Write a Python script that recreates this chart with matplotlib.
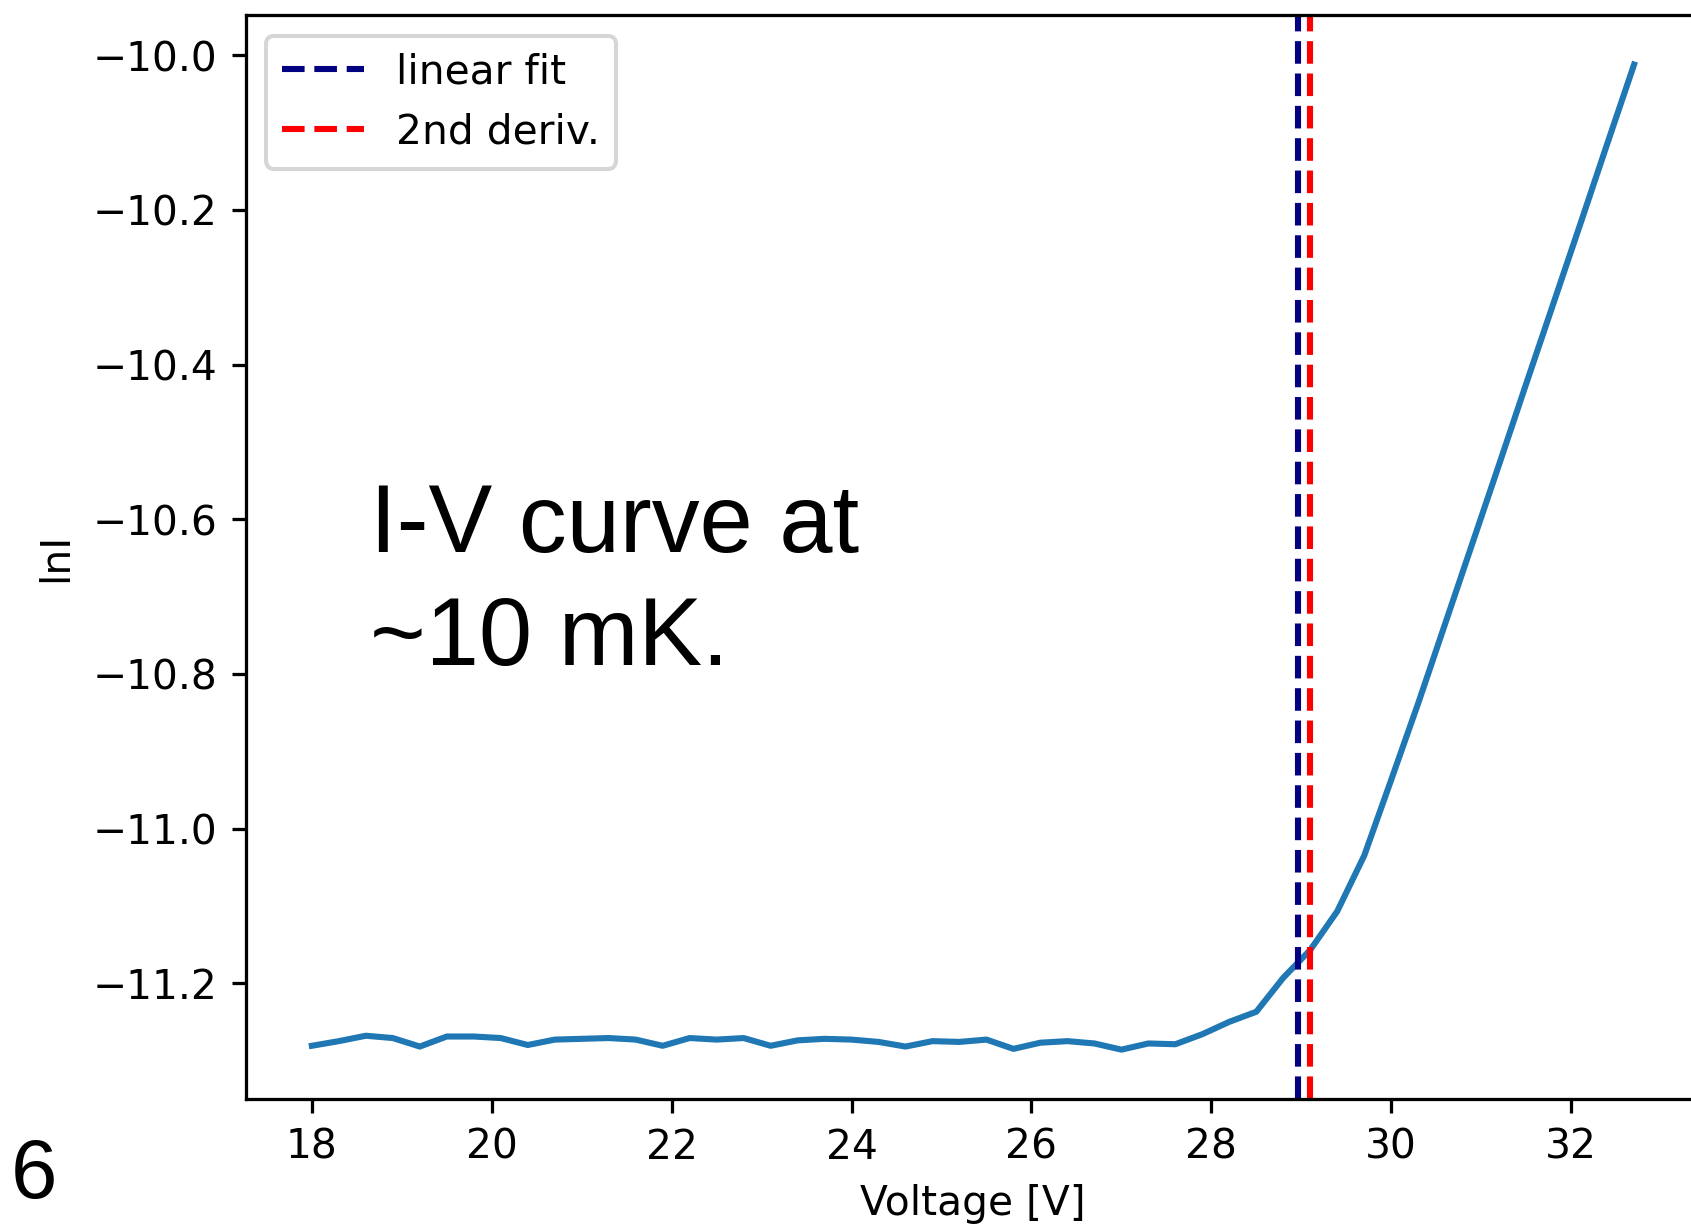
import matplotlib
matplotlib.use("Agg")
import matplotlib.pyplot as plt

# I-V data (voltage in V, ln of current)
voltage = [18.0, 18.3, 18.6, 18.9, 19.2, 19.5, 19.8, 20.1, 20.4, 20.7,
           21.0, 21.3, 21.6, 21.9, 22.2, 22.5, 22.8, 23.1, 23.4, 23.7,
           24.0, 24.3, 24.6, 24.9, 25.2, 25.5, 25.8, 26.1, 26.4, 26.7,
           27.0, 27.3, 27.6, 27.9, 28.2, 28.5, 28.8, 29.1, 29.4, 29.7,
           30.0, 30.3, 30.6, 30.9, 31.2, 31.5, 31.8, 32.1, 32.4, 32.7]
ln_current = [-11.281, -11.275, -11.268, -11.271, -11.282, -11.269, -11.269, -11.271, -11.280, -11.273,
              -11.272, -11.271, -11.273, -11.281, -11.271, -11.273, -11.271, -11.281, -11.274, -11.272,
              -11.273, -11.276, -11.282, -11.275, -11.276, -11.273, -11.285, -11.277, -11.275, -11.278,
              -11.286, -11.278, -11.279, -11.266, -11.250, -11.237, -11.193, -11.157, -11.107, -11.035,
              -10.937, -10.838, -10.735, -10.632, -10.529, -10.425, -10.322, -10.219, -10.115, -10.012]

# breakdown voltage estimates
v_linear_fit = 28.96
v_second_deriv = 29.10

DPI = 293
fig = plt.figure(figsize=(1691.4 / DPI, 1225.4 / DPI), dpi=DPI)
ax = fig.add_axes([0.1453, 0.1029, 0.8599, 0.8843])

ax.plot(voltage, ln_current, color="#1f77b4")
ax.axvline(v_linear_fit, color="navy", linestyle="--", label="linear fit")
ax.axvline(v_second_deriv, color="red", linestyle="--", label="2nd deriv.")

ax.set_xlabel("Voltage [V]")
ax.set_ylabel("lnI")
ax.set_xticks([18, 20, 22, 24, 26, 28, 30, 32])
ax.legend(loc="upper left")

# slide annotations on top of the plot (baseline = last line)
fig.text(370 / 1691, 1 - 665 / 1225, "I-V curve at\n~10 mK.", family="Liberation Sans",
         fontsize=23.5, ha="left", va="baseline", linespacing=1.33)
fig.text(11 / 1691, 1 - 1198 / 1225, "6", family="Liberation Sans",
         fontsize=20.5, ha="left", va="baseline")

fig.savefig("out.png", dpi=DPI)
